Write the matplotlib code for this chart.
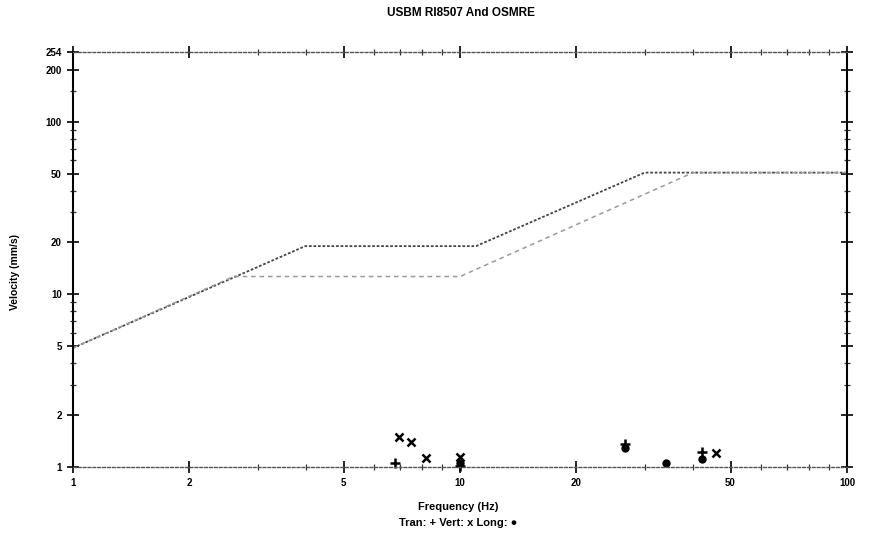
import matplotlib
matplotlib.use('Agg')
import matplotlib.pyplot as plt
from matplotlib.ticker import FixedLocator, NullFormatter

plt.rcParams['font.family'] = ['Liberation Sans', 'DejaVu Sans']

# limit curves (mm/s against Hz)
osmre_freq = [1, 3.98, 11, 30, 100]
osmre_vel = [4.9, 19.05, 19.05, 50.8, 50.8]
usbm_freq = [1, 2.6, 10, 40, 100]
usbm_vel = [4.9, 12.7, 12.7, 50.8, 50.8]

# recorded peaks per channel
tran_freq = [6.8, 10.0, 26.7, 42.1]
tran_vel = [1.05, 1.02, 1.36, 1.22]
vert_freq = [6.97, 7.47, 8.17, 10.0, 46.0]
vert_vel = [1.49, 1.39, 1.13, 1.14, 1.2]
long_freq = [10.0, 26.7, 34.0, 42.1]
long_vel = [1.05, 1.28, 1.05, 1.12]

x_ticks = [1, 2, 5, 10, 20, 50, 100]
y_ticks = [1, 2, 5, 10, 20, 50, 100, 200, 254]
x_minor = [3, 4, 6, 7, 8, 9, 30, 40, 60, 70, 80, 90]
y_minor = [3, 4, 6, 7, 8, 9, 30, 40, 60, 70, 80, 90, 150]

fig = plt.figure(figsize=(8.69, 5.37), dpi=100)
ax = fig.add_axes([73/869, 1-467/537, (847-73)/869, (467-52)/537])

ax.plot(osmre_freq, osmre_vel, color='#444444', linestyle=(0, (1.5, 1)), linewidth=1.3)
ax.plot(usbm_freq, usbm_vel, color='#9a9a9a', linestyle=(0, (3, 2.5)), linewidth=1.1)

ax.plot(tran_freq, tran_vel, linestyle='none', marker='+', color='black',
        markersize=7, markeredgewidth=1.8, clip_on=False)
ax.plot(vert_freq, vert_vel, linestyle='none', marker='x', color='black',
        markersize=5.5, markeredgewidth=1.8, clip_on=False)
ax.plot(long_freq, long_vel, linestyle='none', marker='o', color='black',
        markersize=5, clip_on=False)

ax.set_xscale('log')
ax.set_yscale('log')
ax.set_xlim(1, 100)
ax.set_ylim(1, 254)

ax.xaxis.set_major_locator(FixedLocator(x_ticks))
ax.xaxis.set_minor_locator(FixedLocator(x_minor))
ax.yaxis.set_major_locator(FixedLocator(y_ticks))
ax.yaxis.set_minor_locator(FixedLocator(y_minor))
ax.set_xticklabels([str(t) for t in x_ticks])
ax.set_yticklabels([str(t) for t in y_ticks])
ax.xaxis.set_minor_formatter(NullFormatter())
ax.yaxis.set_minor_formatter(NullFormatter())

ax.tick_params(which='major', direction='inout', length=8, width=1.2,
               top=True, right=True, labelsize=7, pad=4, colors='black')
ax.tick_params(which='minor', direction='inout', length=5, width=0.9,
               top=True, right=True, color='#333333')
for lab in ax.get_xticklabels() + ax.get_yticklabels():
    lab.set_fontweight('bold')

for side in ['left', 'right']:
    ax.spines[side].set_linewidth(1.5)
    ax.spines[side].set_color('black')
for side in ['top', 'bottom']:
    ax.spines[side].set_linewidth(1.0)
    ax.spines[side].set_color('#555555')
    ax.spines[side].set_linestyle((0, (2, 1.5)))

fig.text(461/869, 1-13/537, 'USBM RI8507 And OSMRE', ha='center', va='center',
         fontsize=8.5, fontweight='bold')
fig.text(15/869, 1-272/537, 'Velocity (mm/s)', rotation=90, ha='center', va='center',
         fontsize=7.5, fontweight='bold')
fig.text(458/869, 1-507/537, 'Frequency (Hz)', ha='center', va='center',
         fontsize=8, fontweight='bold')
fig.text(458/869, 1-523/537, 'Tran: + Vert: x Long: \u25cf', ha='center', va='center',
         fontsize=8, fontweight='bold')

fig.savefig('out.png', dpi=100)
